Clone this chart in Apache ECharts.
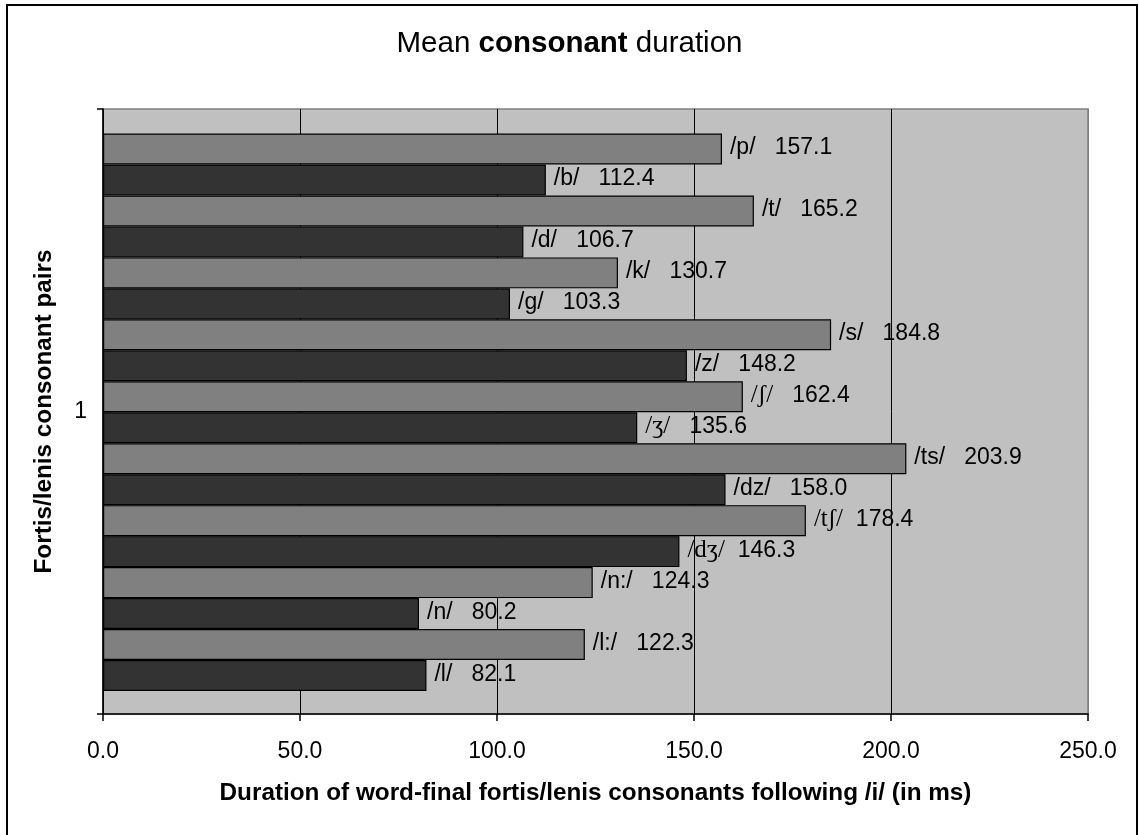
<!DOCTYPE html>
<html>
<head>
<meta charset="utf-8">
<script src="https://cdn.jsdelivr.net/npm/echarts@6/dist/echarts.min.js"></script>
<style>
html,body{margin:0;padding:0;background:#fff;}
#chart{width:1139px;height:835px;}
</style>
</head>
<body>
<div id="chart"></div>
<script>
const consonants = ['/p/','/b/','/t/','/d/','/k/','/g/','/s/','/z/','/ʃ/','/ʒ/','/ts/','/dz/','/tʃ/','/dʒ/','/n:/','/n/','/l:/','/l/'];
const durations = [157.1,112.4,165.2,106.7,130.7,103.3,184.8,148.2,162.4,135.6,203.9,158.0,178.4,146.3,124.3,80.2,122.3,82.1];
const pairCategory = ['1'];
const xTicks = [0,50,100,150,200,250];

const SANS = '"Liberation Sans", Arial, sans-serif';
const SERIF = '"Liberation Serif", "Times New Roman", serif';

const chart = echarts.init(document.getElementById('chart'), null, {renderer:'canvas'});

const option = {
  animation: false,
  backgroundColor: '#ffffff',
  title: {
    left: 'center',
    top: 24,
    text: '{a|Mean }{b|consonant}{a| duration}',
    textStyle: {
      rich: {
        a: {fontFamily: SANS, fontSize: 29.5, color: '#000', fontWeight: 'normal'},
        b: {fontFamily: SANS, fontSize: 29.5, color: '#000', fontWeight: 'bold'}
      }
    }
  },
  graphic: [{
    type: 'rect',
    shape: {x: 7, y: 5, width: 1130, height: 840},
    style: {fill: 'none', stroke: '#000', lineWidth: 2},
    silent: true
  }],
  grid: [
    {left: 103, right: 51, top: 109, bottom: 121, show: true, backgroundColor: '#C0C0C0', borderColor: '#808080', borderWidth: 1.5},
    {left: 103, right: 51, top: 133.5, bottom: 144}
  ],
  xAxis: [
    {
      gridIndex: 0, type: 'value', min: xTicks[0], max: xTicks[xTicks.length-1], interval: 50,
      name: 'Duration of word-final fortis/lenis consonants following /i/ (in ms)',
      nameLocation: 'middle', nameGap: 67,
      nameTextStyle: {fontFamily: SANS, fontSize: 24.3, fontWeight: 'bold', color: '#000'},
      axisLine: {show: true, lineStyle: {color: '#000', width: 1.5}},
      axisTick: {show: true, length: 7, lineStyle: {color: '#000', width: 1.5}},
      axisLabel: {margin: 26, fontFamily: SANS, fontSize: 23, color: '#000', formatter: v => v.toFixed(1)},
      splitLine: {show: true, lineStyle: {color: ['#000','#000','#000','#000','#000','#808080'], width: 1}}
    },
    {
      gridIndex: 1, type: 'value', min: xTicks[0], max: xTicks[xTicks.length-1], interval: 50, show: false,
      splitLine: {show: false}
    }
  ],
  yAxis: [
    {
      gridIndex: 0, type: 'category', data: pairCategory,
      name: 'Fortis/lenis consonant pairs',
      nameLocation: 'middle', nameGap: 47, nameRotate: 90,
      nameTextStyle: {fontFamily: SANS, fontSize: 24.3, fontWeight: 'bold', color: '#000'},
      axisLine: {show: true, lineStyle: {color: '#000', width: 1.5}},
      axisTick: {show: true, length: 6, alignWithLabel: false, lineStyle: {color: '#000', width: 1.5}},
      axisLabel: {margin: 16, fontFamily: SANS, fontSize: 23, color: '#000'},
      splitLine: {show: false}
    },
    {
      gridIndex: 1, type: 'category', data: consonants, inverse: true, show: false
    }
  ],
  series: [{
    type: 'bar',
    xAxisIndex: 1, yAxisIndex: 1,
    data: durations,
    barCategoryGap: 0,
    barWidth: '100%',
    itemStyle: {
      color: p => (p.dataIndex % 2 === 0 ? '#808080' : '#333333'),
      borderColor: '#000', borderWidth: 1.2
    },
    label: {
      show: true,
      position: 'right',
      distance: 8,
      offset: [0, -1],
      formatter: p => {
        const n = consonants[p.dataIndex];
        const serif = /[ʃʒ]/.test(n);
        const gap = (serif && n.length > 3) ? '  ' : '   ';
        return (serif ? '{s|' + n + '}' : '{n|' + n + '}') + '{v|' + gap + p.value.toFixed(1) + '}';
      },
      rich: {
        n: {fontFamily: SANS, fontSize: 23, color: '#000'},
        s: {fontFamily: SERIF, fontSize: 25, color: '#000'},
        v: {fontFamily: SANS, fontSize: 23, color: '#000'}
      }
    }
  }]
};
chart.setOption(option);
</script>
</body>
</html>
